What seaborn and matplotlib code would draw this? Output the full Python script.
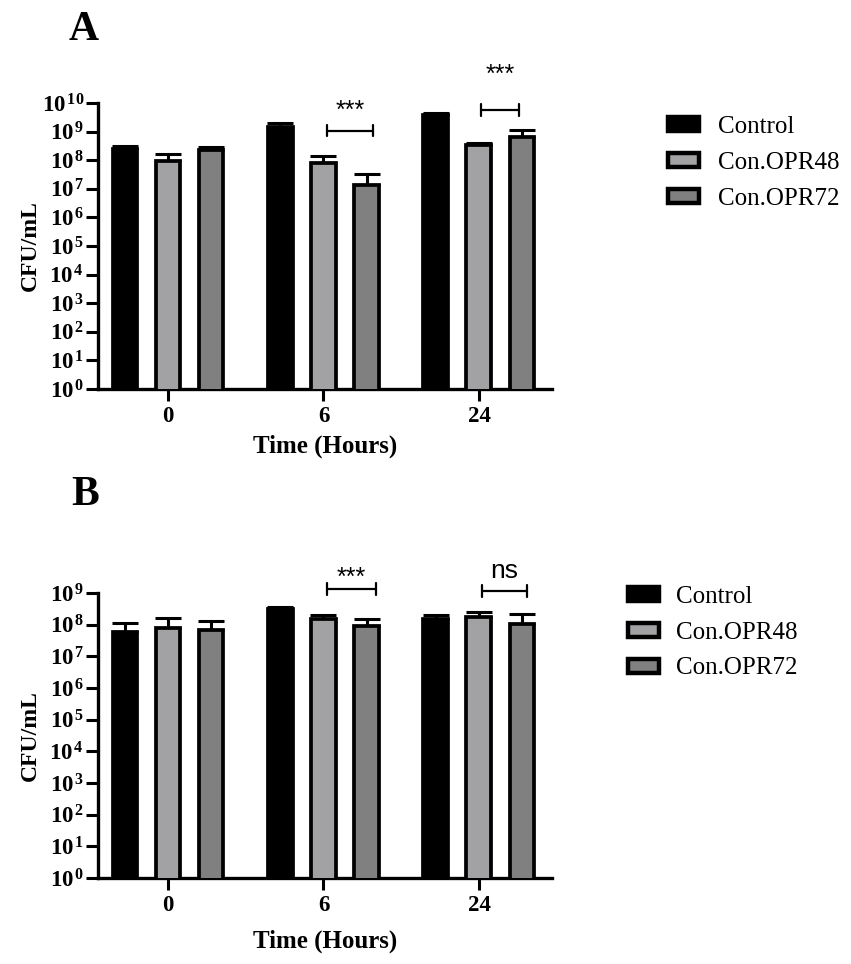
import numpy as np
import pandas as pd
import matplotlib
matplotlib.use("Agg")
import matplotlib.pyplot as plt
from matplotlib.patches import Patch
from matplotlib.ticker import NullLocator
import seaborn as sns

# ---------------- data ----------------
times = ["0", "6", "24"]
groups = ["Control", "Con.OPR48", "Con.OPR72"]
colors = ["#000000", "#A2A2A5", "#808080"]

# Panel A (CFU/mL) mean and upper error
A_control = [2.4e8, 1.5e9, 3.7e9]
A_opr48 = [9.3e7, 7.7e7, 3.4e8]
A_opr72 = [2.2e8, 1.4e7, 6.6e8]
A_control_err = [0.8e8, 0.5e9, 0.8e9]
A_opr48_err = [7.3e7, 6.3e7, 0.6e8]
A_opr72_err = [0.7e8, 1.8e7, 4.4e8]

# Panel B
B_control = [5.9e7, 3.15e8, 1.55e8]
B_opr48 = [7.9e7, 1.48e8, 1.8e8]
B_opr72 = [6.8e7, 9.3e7, 1.02e8]
B_control_err = [5.6e7, 5.5e7, 4.5e7]
B_opr48_err = [8.1e7, 4.7e7, 6.5e7]
B_opr72_err = [6.2e7, 5.7e7, 1.18e8]

# significance annotations: label, x1, x2, bracket y, text y
sig_A = [("***", 1.02, 1.32, 1.07e9, 2.9e9), ("***", 2.01, 2.26, 5.7e9, 5.6e10)]
sig_B = [("***", 1.02, 1.34, 1.33e9, 1.8e9), ("ns", 2.02, 2.31, 1.15e9, 2.9e9)]

SERIF = "Liberation Serif"
SANS = "Liberation Sans"

sns.set_theme(style="ticks")
plt.rcParams["font.family"] = [SERIF, "DejaVu Serif"]
plt.rcParams["mathtext.fontset"] = "custom"
plt.rcParams["mathtext.rm"] = SERIF
plt.rcParams["mathtext.bf"] = SERIF + ":bold"
plt.rcParams["mathtext.it"] = SERIF + ":italic"
for k in ["text.color", "axes.labelcolor", "xtick.color", "ytick.color",
          "axes.edgecolor"]:
    plt.rcParams[k] = "black"

palette = dict(zip(groups, colors))

fig = plt.figure(figsize=(8.51, 9.64), dpi=100)
axA = fig.add_axes([0.1152, 0.5965, 0.5335, 0.2967])
axB = fig.add_axes([0.1152, 0.0892, 0.5335, 0.2957])


def make_df(c, o48, o72):
    rows = []
    for g, vals in zip(groups, [c, o48, o72]):
        for t, v in zip(times, vals):
            rows.append({"Time": t, "Group": g, "CFU": v})
    return pd.DataFrame(rows)


def draw_panel(ax, means, errs, top_exp, sigs):
    df = make_df(*means)
    sns.barplot(data=df, x="Time", y="CFU", hue="Group", order=times,
                hue_order=groups, palette=palette, errorbar=None,
                width=0.83, gap=0.42, edgecolor="black", linewidth=2.7,
                legend=False, ax=ax, zorder=3)
    ax.set_yscale("log")
    # upper-only error bars at the bar centres
    for cont, err in zip(ax.containers, errs):
        xs = [p.get_x() + p.get_width() / 2 for p in cont.patches]
        ys = [p.get_height() for p in cont.patches]
        ax.errorbar(xs, ys, yerr=[np.zeros(len(err)), err], fmt="none",
                    ecolor="black", elinewidth=2.2, capsize=9.5,
                    capthick=2.2, zorder=2)
    ax.set_ylim(1, 10 ** top_exp)
    ax.set_xlim(-0.45, 2.47)
    ticks = [10 ** k for k in range(0, top_exp + 1)]
    ax.set_yticks(ticks, [r"$\mathbf{10^{\,%d}}$" % k for k in range(0, top_exp + 1)])
    ax.yaxis.set_minor_locator(NullLocator())
    ax.tick_params(axis="y", labelsize=16.5, length=8.5, width=2.2, pad=1.5,
                   color="black", labelcolor="black")
    ax.tick_params(axis="x", labelsize=16.5, length=8.5, width=2.2, pad=4,
                   color="black", labelcolor="black")
    for lab in ax.get_xticklabels():
        lab.set_fontweight("bold")
        lab.set_family(SERIF)
    sns.despine(ax=ax)
    for s in ["left", "bottom"]:
        ax.spines[s].set_linewidth(2.4)
        ax.spines[s].set_color("black")
    ax.set_xlabel("Time (Hours)", fontsize=18, fontweight="bold", family=SERIF,
                  color="black")
    ax.set_ylabel("CFU/mL", fontsize=17, fontweight="bold", family=SERIF,
                  color="black")
    ax.set_facecolor("white")
    # significance brackets
    for lab, x1, x2, yb, yt in sigs:
        f = 10 ** 0.2
        ax.plot([x1, x2], [yb, yb], color="black", lw=1.6, clip_on=False,
                zorder=4)
        for xx in (x1, x2):
            ax.plot([xx, xx], [yb / f, yb * f], color="black", lw=1.6,
                    clip_on=False, zorder=4)
        ax.text((x1 + x2) / 2, yt, lab, ha="center", va="baseline",
                fontsize=18 if lab == "***" else 19, family=SANS,
                color="black", clip_on=False)


draw_panel(axA, [A_control, A_opr48, A_opr72],
           [A_control_err, A_opr48_err, A_opr72_err], 10, sig_A)
draw_panel(axB, [B_control, B_opr48, B_opr72],
           [B_control_err, B_opr48_err, B_opr72_err], 9, sig_B)

axA.yaxis.set_label_coords(-0.126, 0.5)
axA.xaxis.set_label_coords(0.5, -0.16)
axB.yaxis.set_label_coords(-0.126, 0.5)
axB.xaxis.set_label_coords(0.5, -0.18)

handles = [Patch(facecolor=palette[g], edgecolor="black", linewidth=3.2)
           for g in groups]
legA = axA.legend(handles, groups, loc="upper left",
                  bbox_to_anchor=(668 / 851, 1 - 116 / 964),
                  bbox_transform=fig.transFigure, frameon=False,
                  prop={"family": SERIF, "size": 18}, handlelength=1.22,
                  handleheight=0.5, handletextpad=0.78, labelspacing=0.56,
                  borderpad=0, borderaxespad=0)
legB = axB.legend(handles, groups, loc="upper left",
                  bbox_to_anchor=(628 / 851, 1 - 586 / 964),
                  bbox_transform=fig.transFigure, frameon=False,
                  prop={"family": SERIF, "size": 18}, handlelength=1.22,
                  handleheight=0.5, handletextpad=0.7, labelspacing=0.55,
                  borderpad=0, borderaxespad=0)
for leg in (legA, legB):
    for t in leg.get_texts():
        t.set_color("black")

fig.text(69 / 851, 1 - 40 / 964, "A", fontsize=30, fontweight="bold",
         family=SERIF, va="baseline", ha="left", color="black")
fig.text(71 / 851, 1 - 505 / 964, "B", fontsize=30, fontweight="bold",
         family=SERIF, va="baseline", ha="left", color="black")

fig.savefig("out.png", dpi=100, facecolor="white")
